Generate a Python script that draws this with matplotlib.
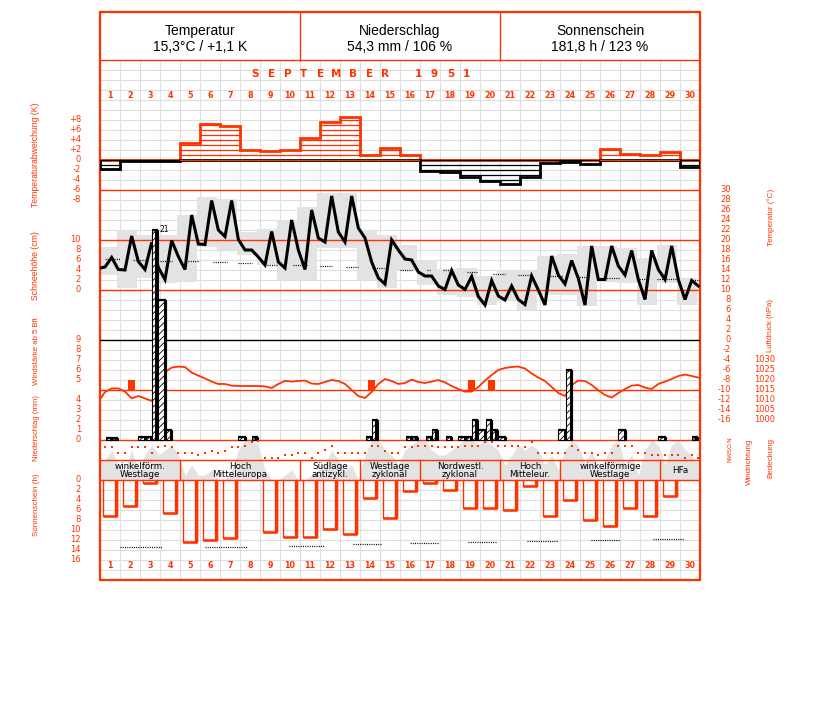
import numpy as np
import matplotlib
matplotlib.use("Agg")
import matplotlib.pyplot as plt
from matplotlib.patches import Rectangle

plt.rcParams['font.family'] = ['DejaVu Sans']
plt.rcParams['hatch.linewidth'] = 0.6
plt.rcParams['hatch.color'] = 'black'

# ---------------- data ----------------
month_title = "SEPTEMBER 1951"
header_titles = ["Temperatur", "Niederschlag", "Sonnenschein"]
header_values = ["15,3°C / +1,1 K", "54,3 mm / 106 %", "181,8 h / 123 %"]
days = np.arange(1, 31)

# daily temperature anomaly (K)
anomaly = [-1.7, -0.1, -0.2, -0.2, 3.5, 7.2, 6.8, 2.0, 1.8, 2.0,
           4.5, 7.7, 8.6, 1.0, 2.5, 1.1, -2.1, -2.3, -3.3, -4.1,
           -4.7, -3.4, -0.6, -0.3, -0.8, 2.3, 1.3, 1.1, 1.7, -1.3]

# temperature at 7h, 14h, 21h (degC); first value = 21h of previous day
temp_prev = 14.3
temp_obs = [14.6, 16.5, 14.1, 14.0, 20.8, 15.7, 14.1, 19.5, 14.5, 12.1, 19.9, 16.7,
            14.1, 25.0, 19.2, 19.1, 27.9, 22.0, 20.7, 27.9, 20.1, 18.0, 18.0, 16.6,
            15.0, 21.7, 15.6, 14.4, 24.0, 18.0, 14.1, 26.0, 20.4, 19.6, 28.8, 21.6,
            19.6, 28.8, 22.4, 20.4, 15.6, 12.4, 11.2, 20.0, 18.0, 16.2, 16.0, 13.6,
            12.8, 12.8, 10.8, 10.1, 13.9, 11.0, 10.1, 12.7, 8.7, 7.0, 11.9, 8.8,
            8.0, 10.8, 8.1, 7.1, 12.8, 10.0, 7.0, 16.8, 13.0, 11.2, 15.9, 12.3,
            7.0, 18.8, 12.1, 12.1, 18.8, 14.8, 13.0, 17.9, 12.1, 8.1, 17.9, 14.1,
            12.1, 18.8, 12.1, 8.1, 11.9, 10.8]

# daily minimum / maximum (grey blocks)
tmin = [13.0, 10.5, 12.5, 11.5, 11.7, 18.7, 18.0, 17.0, 15.0, 12.0,
        12.0, 18.5, 18.5, 12.0, 10.5, 14.1, 11.0, 9.0, 8.7, 7.0,
        8.0, 6.0, 9.0, 9.0, 6.8, 11.7, 11.4, 7.0, 11.4, 7.0]
tmax = [18.7, 22.0, 21.0, 21.0, 25.0, 28.7, 28.3, 21.7, 22.3, 24.0,
        26.7, 29.5, 29.5, 22.0, 21.0, 19.0, 16.0, 14.3, 14.5, 12.8,
        14.0, 13.9, 16.8, 17.2, 18.9, 18.9, 18.4, 16.4, 19.0, 12.4]

# normal temperature (dotted segments): start day, end day, value
norm_start = [0.25, 1.65, 3.0, 4.4, 5.65, 6.9, 8.35, 9.65, 11.0, 12.3, 13.6, 15.0, 16.35, 17.15, 18.35, 19.65, 20.9, 22.5, 23.85, 25.0, 26.85, 27.85, 29.5]
norm_end = [1.0, 2.35, 3.6, 4.9, 6.35, 7.6, 8.85, 10.35, 11.6, 12.9, 14.2, 15.6, 16.5, 17.5, 18.9, 20.25, 21.6, 23.15, 24.5, 26.0, 27.4, 28.85, 30.0]
norm_val = [16.3, 16.1, 15.9, 15.8, 15.6, 15.4, 15.0, 15.0, 14.8, 14.6, 14.4, 14.1, 14.0, 14.0, 13.6, 13.3, 13.1, 12.9, 12.7, 12.5, 12.3, 12.2, 12.0]

# precipitation per period (21h-7h, 7h-14h, 14h-21h), mm
precip_prev = 8.0
precip = [0.0, 0.2, 0.2,  0, 0, 0,  0.3, 0.3, 21.0,  14.0, 1.0, 0,  0, 0, 0,
          0, 0, 0,  0, 0, 0,  0.3, 0, 0.3,  0, 0, 0,  0, 0, 0,
          0, 0, 0,  0, 0, 0,  0, 0, 0,  0, 0.3, 2.0,  0, 0, 0,
          0, 0.3, 0.3,  0, 0.3, 1.0,  0, 0.3, 0,  0.3, 0.3, 2.0,  1.0, 2.0, 1.0,
          0.3, 0, 0,  0, 0, 0,  0, 0, 0,  1.0, 7.0, 0,  0, 0, 0,
          0, 0, 0,  1.0, 0, 0,  0, 0, 0,  0.3, 0, 0,  0, 0, 0.3]
precip_label = "21"

# wind force >= 5 Bft (day, observation index, Bft)
wind_day = [2, 14, 19, 20]
wind_obs = [1, 1, 1, 1]
wind_bft = [5, 5, 5, 5]

# air pressure at 7h, 14h, 21h (hPa)
pressure_prev = 1009.0
pressure = [1014.0, 1015.8, 1015.8, 1014.2, 1010.8, 1012.0, 1010.8, 1009.5, 1016.0,
            1024.0, 1026.2, 1026.7, 1026.5, 1023.7, 1022.2, 1020.8, 1019.2, 1018.0,
            1018.0, 1017.2, 1017.0, 1017.0, 1017.0, 1017.0, 1016.8, 1016.0, 1018.0,
            1019.6, 1019.2, 1019.5, 1019.7, 1018.2, 1018.0, 1019.0, 1020.0, 1019.5,
            1018.0, 1015.0, 1012.0, 1011.0, 1014.0, 1018.0, 1020.5, 1019.5, 1018.0,
            1018.5, 1020.2, 1019.0, 1018.5, 1019.2, 1020.0, 1018.8, 1017.0, 1015.5,
            1014.2, 1014.2, 1016.5, 1019.7, 1022.5, 1025.0, 1026.0, 1026.5, 1026.7,
            1025.7, 1023.3, 1021.2, 1019.5, 1016.5, 1013.5, 1012.0, 1017.5, 1019.7,
            1019.5, 1017.5, 1014.8, 1012.5, 1011.2, 1013.5, 1015.5, 1017.2, 1017.5,
            1016.2, 1015.5, 1018.0, 1019.2, 1020.5, 1022.0, 1022.7, 1022.0, 1021.2]

# wind direction at 7h, 14h, 21h (degrees)
wind_dir = [132, 132, 228, 228, 132, 132, 132, 228, 132, 102, 132, 228,
            228, 228, 276, 228, 198, 228, 198, 132, 132, 102, 36, 24,
            324, 324, 324, 276, 276, 228, 228, 324, 228, 180, 102, 228,
            228, 228, 228, 228, 102, 102, 198, 228, 228, 132, 132, 102,
            102, 102, 132, 132, 132, 132, 102, 102, 102, 36, 36, 102,
            102, 102, 102, 132, 36, 228, 228, 228, 228, 228, 102, 180,
            228, 228, 276, 228, 228, 102, 102, 102, 228, 228, 276, 276,
            276, 276, 276, 324, 276, 324]

# cloud cover at 7h, 14h, 21h (octas)
cloud = [4, 6, 3, 2, 6, 2, 5, 7, 5, 6, 7, 5, 1, 3, 1, 1, 2, 0, 0, 2, 6, 8, 8, 7,
         2, 0, 0, 1, 2, 0, 0, 1, 2, 3, 6, 4, 2, 3, 0, 5, 8, 8, 6, 5, 3, 6, 7, 8,
         8, 6, 5, 5, 6, 7, 8, 8, 7, 8, 7, 6, 3, 5, 7, 6, 7, 6, 3, 5, 2, 6, 8, 7,
         3, 6, 2, 4, 7, 8, 3, 5, 1, 6, 8, 7, 3, 7, 8, 6, 5, 3]

# weather types (Grosswetterlagen)
weather_names = ["winkelförm.\nWestlage", "Hoch\nMitteleuropa", "Südlage\nantizykl.",
                 "Westlage\nzyklonal", "Nordwestl.\nzyklonal", "Hoch\nMitteleur.",
                 "winkelförmige\nWestlage", "HFa"]
weather_first = [1, 5, 11, 14, 17, 21, 24, 29]
weather_last = [4, 10, 13, 16, 20, 23, 28, 30]

# sunshine duration (h)
sun = [7.2, 5.1, 0.5, 6.5, 12.3, 12.0, 11.5, 0.0, 10.4, 11.3,
       11.3, 9.7, 10.7, 3.6, 7.5, 2.1, 0.5, 1.9, 5.5, 5.5,
       5.9, 1.1, 7.1, 3.9, 7.9, 9.1, 5.5, 7.1, 3.1, 0.0]
# possible sunshine duration (dotted segments)
poss_start = [1.0, 5.25, 9.45, 12.65, 15.5, 18.4, 21.35, 24.55, 27.65]
poss_end = [3.08, 7.33, 11.2, 14.08, 16.9, 19.85, 22.9, 26.0, 29.2]
poss_val = [13.45, 13.34, 13.14, 12.8, 12.66, 12.46, 12.2, 12.0, 11.8]

# ---------------- layout ----------------
W, H = 827, 702
RED = '#ff3300'
GRIDC = '#dedede'
SHADE = '#e3e3e3'
FL, FR, FT, FB = 100, 700, 12, 580
SANS = ['Liberation Sans', 'DejaVu Sans']

fig = plt.figure(figsize=(W / 100, H / 100), dpi=100)


def frame_ax(z):
    ax = fig.add_axes([FL / W, 1 - FB / H, (FR - FL) / W, (FB - FT) / H])
    ax.set_xlim(0, 30)
    ax.axis('off')
    ax.set_zorder(z)
    ax.patch.set_visible(False)
    return ax


def data_ax(zero_px, px_per_unit, z, down=False):
    ax = frame_ax(z)
    if down:
        ax.set_ylim((FB - zero_px) / px_per_unit, (FT - zero_px) / px_per_unit)
    else:
        ax.set_ylim((zero_px - FB) / px_per_unit, (zero_px - FT) / px_per_unit)
    return ax


# full figure pixel axes for outside text
fx = fig.add_axes([0, 0, 1, 1])
fx.set_xlim(0, W)
fx.set_ylim(H, 0)
fx.axis('off')
fx.set_zorder(10)

# grid layer
gl = frame_ax(0)
gl.set_ylim(FB, FT)
for d in range(1, 30):
    gl.plot([d, d], [60, 440], color=GRIDC, lw=0.8)
    gl.plot([d, d], [480, 580], color=GRIDC, lw=0.8)
for y in list(range(70, 440, 10)) + list(range(490, 580, 10)):
    gl.plot([0, 30], [y, y], color=GRIDC, lw=0.8)

obs_frac = np.array([0.25, 0.583, 0.917])
obs_x = ((days - 1)[:, None] + obs_frac[None, :]).ravel()
obs_x_ext = np.concatenate([[-1 + obs_frac[2]], obs_x])

# shading layer: temperature min/max blocks and cloud cover
ax_tb = data_ax(340, 5, 1)
ax_tb.bar(days - 1 - 1 / 6, np.array(tmax) - np.array(tmin), bottom=tmin, width=1.0,
          align='edge', color=SHADE, lw=0)
ax_cl = data_ax(480, 5, 1)
ax_cl.fill_between(obs_x_ext, 0, np.concatenate([[cloud[0]], cloud]), color=SHADE, lw=0)

# line layer
ll = frame_ax(2)
ll.set_ylim(FB, FT)
for y in [60, 190, 240, 290, 390, 440, 460, 480]:
    ll.plot([0, 30], [y, y], color=RED, lw=1.0)
ll.plot([0, 30], [340, 340], color='black', lw=1.0)
ll.plot([10, 10], [FT, 60], color=RED, lw=1.0)
ll.plot([20, 20], [FT, 60], color=RED, lw=1.0)
ll.add_patch(Rectangle((0, FT), 30, FB - FT, fill=False, ec=RED, lw=1.6, clip_on=False))
for first, last, name in zip(weather_first, weather_last, weather_names):
    if first > 1:
        ll.plot([first - 1, first - 1], [460, 480], color=RED, lw=1.0)
    ll.text((first - 1 + last) / 2, 470.5, name, ha='center', va='center', fontsize=6.3,
            color='black', linespacing=0.92)
for i, (t, v) in enumerate(zip(header_titles, header_values)):
    ll.text(5 + 10 * i, 31, t, ha='center', va='center', fontsize=10, family=SANS)
    ll.text(5 + 10 * i, 47, v, ha='center', va='center', fontsize=10, family=SANS)
for d in days:
    ll.text(d - 0.5, 96, str(d), ha='center', va='center', fontsize=5.8,
            color=RED, fontweight='bold')
    ll.text(d - 0.5, 566, str(d), ha='center', va='center', fontsize=5.8,
            color=RED, fontweight='bold')
for k, ch in enumerate(month_title):
    fx.text(255 + 16.3 * k, 74, ch, ha='center', va='center', fontsize=7.5,
            color=RED, fontweight='bold')

# ---- temperature anomaly ----
ax_a = data_ax(160, 5, 3)
an = np.array(anomaly)
edges = np.arange(0, 31)
ax_a.stairs(np.maximum(an, 0), edges, baseline=0, color=RED, lw=2.0)
ax_a.stairs(np.minimum(an, 0), edges, baseline=0, color='black', lw=2.0)
for i, v in enumerate(an):
    c = RED if v >= 0 else 'black'
    ax_a.plot([i, i + 1], [0, 0], color=c, lw=0.9)
    n = int(np.floor(abs(v)))
    for k in range(1, n + 1):
        ax_a.plot([i, i + 1], [np.sign(v) * k] * 2, color=c, lw=0.9)

# ---- temperature ----
ax_t = data_ax(340, 5, 4)
ax_t.hlines(norm_val, norm_start, norm_end, colors='black', lw=0.9,
            linestyles=(0, (0.8, 1.0)))
ax_t.plot(obs_x_ext, np.concatenate([[temp_prev], temp_obs]), color='black', lw=2.2,
          solid_joinstyle='miter')

# ---- pressure ----
ax_pr = data_ax(2420, 2, 5)
ax_pr.plot(obs_x_ext, np.concatenate([[pressure_prev], pressure]), color=RED, lw=1.3)

# ---- wind force ----
ax_w = data_ax(430, 10, 5)
ax_w.bar([d - 1 + obs_frac[o] for d, o in zip(wind_day, wind_obs)],
         np.array(wind_bft) - 4, bottom=4, width=0.36, color=RED, lw=0)

# ---- precipitation ----
ax_p = data_ax(440, 10, 6)
bounds = np.array([-0.125, 0.3, 0.583, 0.875])
pvals = [precip_prev] + list(precip)
pstart = [-1 + bounds[2]] + [d - 1 + bounds[k] for d in days for k in range(3)]
pend = [-1 + bounds[3]] + [d - 1 + bounds[k + 1] for d in days for k in range(3)]
for x0, x1, v in zip(pstart, pend, pvals):
    if v <= 0:
        continue
    ax_p.add_patch(Rectangle((x0, 0), x1 - x0, v, facecolor='white', edgecolor='black',
                             hatch='/////', lw=0.8))
    ax_p.plot([x1 - 0.055, x1 - 0.055], [0, v], color='black', lw=2.2,
              solid_capstyle='butt')
    ax_p.plot([x0, x1], [v, v], color='black', lw=1.6, solid_capstyle='butt')
imax = int(np.argmax(pvals))
ax_p.text(pend[imax] + 0.1, pvals[imax], precip_label, fontsize=5.5, ha='left',
          va='center', color='black')

# ---- wind direction ----
ax_wd = data_ax(440, 20 / 360, 6, down=True)
ax_wd.plot(obs_x, wind_dir, ls='none', marker='s', ms=2.0, mew=0, color=RED)

# ---- sunshine ----
ax_s = data_ax(480, 5, 6, down=True)
for i, v in enumerate(sun):
    if v <= 0:
        continue
    x0, x1 = i + 1 / 6, i + 5 / 6
    ax_s.plot([x0, x0, x1, x1], [0, v, v, 0], color=RED, lw=1.0)
    ax_s.plot([x1 - 0.05, x1 - 0.05], [0, v], color=RED, lw=2.4, solid_capstyle='butt')
    ax_s.plot([x0, x1], [v, v], color=RED, lw=1.8, solid_capstyle='butt')
ax_s.hlines(poss_val, poss_start, poss_end, colors='black', lw=0.9,
            linestyles=(0, (0.8, 1.0)))

# ---------------- tick labels ----------------
lx = -0.95
tick_kw = dict(ha='right', va='center', fontsize=6, color=RED, clip_on=False)
for v in [8, 6, 4, 2, 0, -2, -4, -6, -8]:
    lab = ('+' + str(v)) if v > 0 else str(v)
    ax_a.text(lx, v, lab, **tick_kw)
for v in [10, 8, 6, 4, 2, 0]:
    ax_t.text(lx, v + 10, str(v), **tick_kw)
for v in [9, 8, 7, 6, 5]:
    ax_w.text(lx, v, str(v), **tick_kw)
for v in [4, 3, 2, 1, 0]:
    ax_p.text(lx, v, str(v), **tick_kw)
for v in range(0, 17, 2):
    ax_s.text(lx, v, str(v), **tick_kw)
for v in range(30, -17, -2):
    ax_t.text(31.55, v, str(v), **tick_kw)
for v in range(1030, 999, -5):
    ax_pr.text(33.75, v, str(v), **tick_kw)
for k, ch in enumerate("NOSWN"):
    ax_wd.text(31.5, k * 90, ch, ha='center', va='center', fontsize=4.5, color=RED,
               rotation=90, clip_on=False)

title_kw = dict(rotation=90, ha='center', va='center', color=RED, family=SANS)
fx.text(36, 155, "Temperaturabweichung (K)", fontsize=6.2, **title_kw)
fx.text(36, 266, "Schneehöhe (cm)", fontsize=6.2, **title_kw)
fx.text(36, 351, "Windstärke ab 5 Bft", fontsize=5.6, **title_kw)
fx.text(36, 428, "Niederschlag (mm)", fontsize=5.6, **title_kw)
fx.text(36, 505, "Sonnenschein (h)", fontsize=5.8, **title_kw)
fx.text(771, 217, "Temperatur (°C)", fontsize=5.8, **title_kw)
fx.text(771, 325, "Luftdruck (hPa)", fontsize=5.6, **title_kw)
fx.text(749, 462, "Windrichtung", fontsize=5.8, **title_kw)
fx.text(771, 458, "Bedeckung", fontsize=5.8, **title_kw)

fig.savefig("out.png", dpi=100)
